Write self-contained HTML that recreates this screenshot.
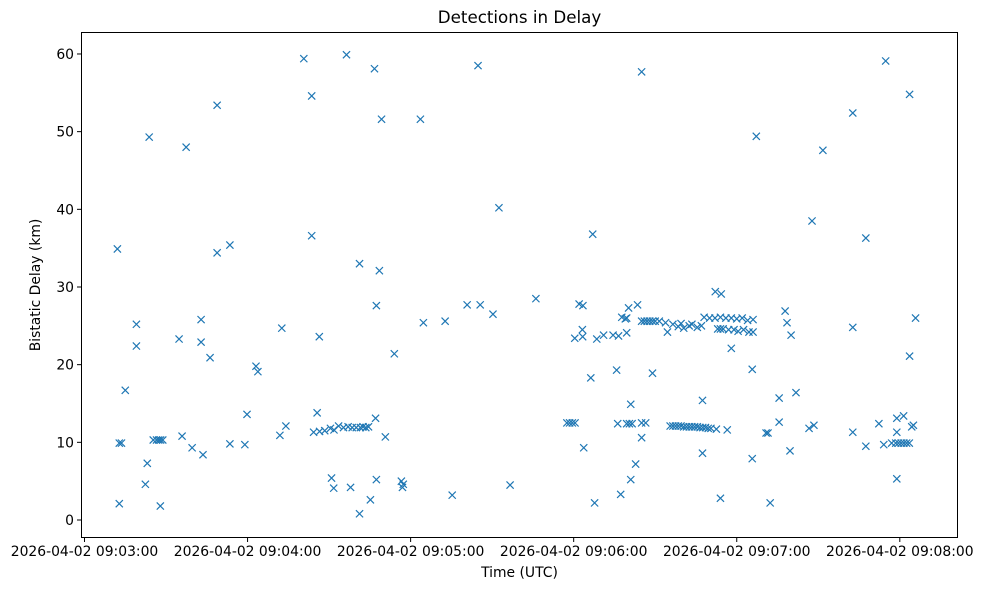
<!DOCTYPE html>
<html><head><meta charset="utf-8"><style>
body{margin:0;background:#fff;}
svg text{font-family:"DejaVu Sans","Liberation Sans",sans-serif;fill:#000;}
</style></head><body>
<svg id="chart" width="981" height="590" xmlns="http://www.w3.org/2000/svg">
<rect width="981" height="590" fill="#fff"/>
<text x="519.5" y="23" font-size="16.7" text-anchor="middle">Detections in Delay</text>
<text x="519.5" y="577" font-size="13.9" text-anchor="middle">Time (UTC)</text>
<text transform="translate(40,285) rotate(-90)" font-size="13.9" text-anchor="middle">Bistatic Delay (km)</text>
<g id="marks"></g>
<g id="axes"></g>
<rect x="81.5" y="32.5" width="876" height="505" fill="none" stroke="#000" stroke-width="1"/>
</svg>
<script>
const xTickSeconds=[0,60,120,180,240,300];
const xTickLabels=["2026-04-02 09:03:00","2026-04-02 09:04:00","2026-04-02 09:05:00","2026-04-02 09:06:00","2026-04-02 09:07:00","2026-04-02 09:08:00"];
const yTicks=[0,10,20,30,40,50,60];
// seconds after 09:03:00 UTC
const times=[12.1,12.8,13.6,12.8,15.0,19.1,19.1,22.4,23.1,23.8,25.3,26.5,27.3,28.0,28.8,27.9,34.8,35.9,37.4,39.6,42.9,42.9,43.6,46.2,48.8,48.8,53.5,53.5,59.0,59.8,63.1,63.8,71.9,72.6,74.1,
80.7,83.6,83.6,84.3,86.5,88.4,90.5,91.8,93.5,95.3,97.0,98.5,100.0,101.5,102.5,103.5,104.5,85.6,86.4,90.9,91.7,96.4,97.9,101.2,101.2,105.2,106.7,107.1,107.4,107.4,108.5,109.3,110.7,114.0,116.6,117.0,117.3,
123.6,124.7,132.7,135.3,140.8,144.8,145.6,150.3,152.5,156.6,166.1,
177.5,178.5,179.5,180.5,180.4,183.2,183.3,182.0,183.4,186.3,183.7,187.0,187.7,188.5,191.0,194.5,196.5,195.8,197.3,197.7,199.0,199.5,200.2,203.5,199.5,196.2,199.5,200.5,201.5,205.0,206.5,201.0,205.0,202.8,201.0,209.0,205.0,
205.0,206.0,207.0,208.0,209.0,210.0,211.5,213.8,214.5,
215.5,216.5,217.5,218.5,219.5,220.5,221.5,222.5,223.5,224.5,225.5,226.5,227.5,228.5,229.5,230.5,232.5,236.5,
216.5,218.5,219.5,220.5,222.5,223.5,225.5,227.0,
227.4,227.4,228.0,230.0,232.0,234.0,236.0,238.0,240.0,242.0,244.0,246.0,232.1,234.3,233.0,234.0,235.0,237.0,239.0,240.5,242.5,244.5,246.0,238.0,245.7,245.7,234.0,247.2,252.3,250.8,251.5,255.6,255.6,257.8,258.5,260.0,259.6,261.8,266.6,268.4,267.7,271.7,
282.7,282.7,282.7,287.5,287.5,292.3,294.1,294.8,298.9,301.4,298.9,298.9,297.0,298.5,299.5,300.5,301.5,302.5,303.5,303.6,303.6,304.4,305.0,305.8];
const delays=[34.9,9.9,9.9,2.1,16.7,25.2,22.4,4.6,7.3,49.3,10.3,10.3,10.3,10.3,10.3,1.8,23.3,10.8,48.0,9.3,25.8,22.9,8.4,20.9,53.4,34.4,35.4,9.8,9.7,13.6,19.8,19.1,10.9,24.7,12.1,
59.4,54.6,36.6,11.3,11.4,11.5,11.8,11.6,12.1,11.9,12.0,11.9,11.9,11.9,12.0,11.9,12.0,13.8,23.6,5.4,4.1,59.9,4.2,33.0,0.8,2.6,58.1,13.1,27.6,5.2,32.1,51.6,10.7,21.4,5.0,4.2,4.6,
51.6,25.4,25.6,3.2,27.7,58.5,27.7,26.5,40.2,4.5,28.5,
12.5,12.5,12.5,12.5,23.4,24.5,23.6,27.8,27.6,18.3,9.3,36.8,2.2,23.3,23.8,23.8,23.7,19.3,3.3,26.1,25.9,26.0,27.3,27.7,24.1,12.4,12.4,12.4,12.4,12.5,12.5,14.9,10.6,7.2,5.2,18.9,57.7,
25.6,25.6,25.6,25.6,25.6,25.6,25.6,25.4,24.2,
12.1,12.1,12.1,12.1,12.1,12.0,12.0,12.0,12.0,12.0,12.0,11.9,11.9,11.9,11.8,11.8,11.7,11.6,
25.2,24.9,25.3,24.7,25.0,25.2,24.8,25.0,
15.4,8.6,26.1,26.0,26.0,26.1,26.0,26.0,25.9,26.0,25.7,25.8,29.4,29.1,24.6,24.6,24.6,24.5,24.5,24.3,24.5,24.2,24.2,22.1,19.4,7.9,2.8,49.4,2.2,11.2,11.2,15.7,12.6,26.9,25.4,23.8,8.9,16.4,11.8,12.2,38.5,47.6,
52.4,24.8,11.3,36.3,9.5,12.4,9.7,59.1,13.1,13.4,11.3,5.3,9.9,9.9,9.9,9.9,9.9,9.9,9.9,21.1,54.8,12.0,12.2,26.0];

const X0=84.5, PXS=163.06/60;
function xs(s){return X0+s*PXS;}
function ys(v){return 520-v*7.767;}
const NS="http://www.w3.org/2000/svg";
const marks=document.getElementById('marks');
for(let i=0;i<times.length;i++){
  const x=xs(times[i]), y=ys(delays[i]), r=3.6;
  const p=document.createElementNS(NS,'path');
  p.setAttribute('d',`M${x-r},${y-r}L${x+r},${y+r}M${x-r},${y+r}L${x+r},${y-r}`);
  p.setAttribute('stroke','#1f77b4');p.setAttribute('stroke-width','1.2');p.setAttribute('fill','none');
  
  
  marks.appendChild(p);
}
const axes=document.getElementById('axes');
xTickSeconds.forEach((s,i)=>{
  const x=xs(s);
  const l=document.createElementNS(NS,'line');
  l.setAttribute('x1',x);l.setAttribute('x2',x);l.setAttribute('y1',538);l.setAttribute('y2',542);l.setAttribute('stroke','#000');
  
  
  axes.appendChild(l);
  const t=document.createElementNS(NS,'text');
  t.setAttribute('x',x);t.setAttribute('y',556);t.setAttribute('font-size','13.9');t.setAttribute('text-anchor','middle');
  t.textContent=xTickLabels[i];
  
  
  axes.appendChild(t);
});
yTicks.forEach(v=>{
  const y=ys(v);
  const l=document.createElementNS(NS,'line');
  l.setAttribute('x1',77);l.setAttribute('x2',81);l.setAttribute('y1',y);l.setAttribute('y2',y);l.setAttribute('stroke','#000');
  
  
  axes.appendChild(l);
  const t=document.createElementNS(NS,'text');
  t.setAttribute('x',74);t.setAttribute('y',y+5);t.setAttribute('font-size','13.9');t.setAttribute('text-anchor','end');
  t.textContent=String(v);
  
  
  axes.appendChild(t);
});
</script>
</body></html>
